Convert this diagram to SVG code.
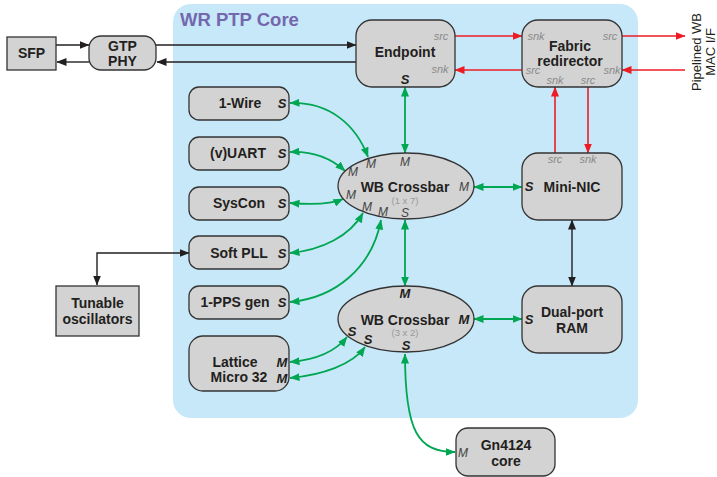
<svg xmlns="http://www.w3.org/2000/svg" width="717" height="477" viewBox="0 0 717 477">
  <defs>
    <marker id="ak" viewBox="0 0 10 8" refX="9.5" refY="4" markerWidth="10" markerHeight="8" markerUnits="userSpaceOnUse" orient="auto-start-reverse">
      <path d="M0,0 L10,4 L0,8 Z" fill="#231f20"/>
    </marker>
    <marker id="ag" viewBox="0 0 10 8" refX="9.5" refY="4" markerWidth="10" markerHeight="8" markerUnits="userSpaceOnUse" orient="auto-start-reverse">
      <path d="M0,0 L10,4 L0,8 Z" fill="#00a651"/>
    </marker>
    <marker id="ar" viewBox="0 0 10 8" refX="9.5" refY="4" markerWidth="10" markerHeight="8" markerUnits="userSpaceOnUse" orient="auto-start-reverse">
      <path d="M0,0 L10,4 L0,8 Z" fill="#ed1c24"/>
    </marker>
  </defs>
  <style>
    .box { fill: #d3d3d3; stroke: #333; stroke-width: 1.3; }
    .lbl { font-family: "Liberation Sans", Arial, sans-serif; font-weight: bold; font-size: 14px; fill: #231f20; text-anchor: middle; }
    .port { font-family: "Liberation Sans", Arial, sans-serif; font-style: italic; font-size: 11px; fill: #8a8a8a; text-anchor: middle; }
    .ps { font-family: "Liberation Sans", Arial, sans-serif; font-style: italic; font-weight: bold; font-size: 13px; fill: #231f20; text-anchor: middle; }
    .pm { font-family: "Liberation Sans", Arial, sans-serif; font-style: italic; font-size: 12px; fill: #444; text-anchor: middle; }
    .sub { font-family: "Liberation Sans", Arial, sans-serif; font-size: 9.5px; fill: #999; text-anchor: middle; }
    .side { font-family: "Liberation Sans", Arial, sans-serif; font-size: 13px; fill: #231f20; text-anchor: middle; }
    .k { fill: none; stroke: #231f20; stroke-width: 1.4; }
    .g { fill: none; stroke: #00a651; stroke-width: 1.8; }
    .r { fill: none; stroke: #ed1c24; stroke-width: 1.6; }
  </style>

  <!-- core region -->
  <rect x="173" y="4" width="465" height="414" rx="18" fill="#c6e8f9"/>
  <text x="180" y="26" font-family="Liberation Sans, Arial, sans-serif" font-weight="bold" font-size="18.5" fill="#7467ad">WR PTP Core</text>

  <!-- connectors -->
  <g id="connectors">
    <!-- SFP / PHY / Endpoint -->
    <line class="k" x1="56" y1="45" x2="89" y2="45" marker-end="url(#ak)"/>
    <line class="k" x1="89" y1="62" x2="57" y2="62" marker-end="url(#ak)"/>
    <line class="k" x1="156" y1="45" x2="356" y2="45" marker-end="url(#ak)"/>
    <line class="k" x1="356" y1="62" x2="157" y2="62" marker-end="url(#ak)"/>
    <!-- Soft PLL / tunable oscillators -->
    <path class="k" d="M97,285 V253 H189" marker-start="url(#ak)" marker-end="url(#ak)"/>
    <!-- Mini-NIC / RAM -->
    <line class="k" x1="572" y1="220" x2="572" y2="286" marker-start="url(#ak)" marker-end="url(#ak)"/>

    <!-- fabric (red) -->
    <line class="r" x1="455" y1="36" x2="522" y2="36" marker-end="url(#ar)"/>
    <line class="r" x1="522" y1="70" x2="455" y2="70" marker-end="url(#ar)"/>
    <line class="r" x1="622" y1="36" x2="685" y2="36" marker-end="url(#ar)"/>
    <line class="r" x1="685" y1="70" x2="622" y2="70" marker-end="url(#ar)"/>
    <line class="r" x1="555" y1="153" x2="555" y2="87" marker-end="url(#ar)"/>
    <line class="r" x1="588" y1="87" x2="588" y2="153" marker-end="url(#ar)"/>

    <!-- wishbone (green) -->
    <line class="g" x1="405" y1="87" x2="405" y2="153" marker-start="url(#ag)" marker-end="url(#ag)"/>
    <line class="g" x1="405" y1="220" x2="405" y2="286" marker-start="url(#ag)" marker-end="url(#ag)"/>
    <line class="g" x1="474" y1="187" x2="522" y2="187" marker-start="url(#ag)" marker-end="url(#ag)"/>
    <line class="g" x1="474" y1="319" x2="522" y2="319" marker-start="url(#ag)" marker-end="url(#ag)"/>
    <path class="g" d="M290,103 C330,102 356,125 368,157" marker-start="url(#ag)" marker-end="url(#ag)"/>
    <path class="g" d="M290,152 C315,151 332,159 345,171" marker-start="url(#ag)" marker-end="url(#ag)"/>
    <path class="g" d="M290,203 C315,205 332,204 343,199" marker-start="url(#ag)" marker-end="url(#ag)"/>
    <path class="g" d="M290,253 C322,250 350,236 363,213" marker-start="url(#ag)" marker-end="url(#ag)"/>
    <path class="g" d="M290,302 C335,298 372,268 381,220" marker-start="url(#ag)" marker-end="url(#ag)"/>
    <path class="g" d="M290,362 C315,360 335,352 347,337" marker-start="url(#ag)" marker-end="url(#ag)"/>
    <path class="g" d="M290,378 C322,375 352,365 365,347" marker-start="url(#ag)" marker-end="url(#ag)"/>
    <path class="g" d="M405,354 C405,432 418,452 455,452" marker-start="url(#ag)" marker-end="url(#ag)"/>
  </g>

  <g id="sfp">
    <rect class="box" x="7" y="37" width="49" height="33"/>
    <text class="lbl" x="31.5" y="58">SFP</text>
  </g>

  <g id="gtp-phy">
    <rect class="box" x="89" y="36" width="67" height="34" rx="12"/>
    <text class="lbl" x="122.5" y="51">GTP</text>
    <text class="lbl" x="122.5" y="66">PHY</text>
  </g>

  <g id="endpoint">
    <rect class="box" x="356" y="20" width="99" height="67" rx="16"/>
    <text class="lbl" x="405" y="57">Endpoint</text>
    <text class="port" x="441" y="40">src</text>
    <text class="port" x="440" y="73">snk</text>
    <text class="ps" x="405" y="84">S</text>
  </g>

  <g id="fabric-redirector">
    <rect class="box" x="522" y="20" width="100" height="67" rx="16"/>
    <text class="lbl" x="570" y="51">Fabric</text>
    <text class="lbl" x="570" y="66">redirector</text>
    <text class="port" x="536" y="40">snk</text>
    <text class="port" x="610" y="40">src</text>
    <text class="port" x="533" y="74">src</text>
    <text class="port" x="612" y="74">snk</text>
    <text class="port" x="555" y="84">snk</text>
    <text class="port" x="588" y="84">src</text>
  </g>

  <text class="side" transform="translate(701,52) rotate(-90)">Pipelined WB</text>
  <text class="side" transform="translate(715,52) rotate(-90)">MAC I/F</text>

  <g id="one-wire">
    <rect class="box" x="189" y="87" width="100" height="33" rx="10"/>
    <text class="lbl" x="240" y="108">1-Wire</text>
    <text class="ps" x="282" y="108">S</text>
  </g>

  <g id="vuart">
    <rect class="box" x="189" y="137" width="100" height="33" rx="10"/>
    <text class="lbl" x="238" y="158">(v)UART</text>
    <text class="ps" x="282" y="158">S</text>
  </g>

  <g id="syscon">
    <rect class="box" x="189" y="187" width="100" height="33" rx="10"/>
    <text class="lbl" x="239" y="208">SysCon</text>
    <text class="ps" x="282" y="208">S</text>
  </g>

  <g id="soft-pll">
    <rect class="box" x="189" y="236" width="100" height="33" rx="10"/>
    <text class="lbl" x="239" y="258">Soft PLL</text>
    <text class="ps" x="282" y="258">S</text>
  </g>

  <g id="pps-gen">
    <rect class="box" x="189" y="286" width="100" height="33" rx="10"/>
    <text class="lbl" x="235" y="307">1-PPS gen</text>
    <text class="ps" x="282" y="307">S</text>
  </g>

  <g id="lm32">
    <rect class="box" x="189" y="336" width="100" height="55" rx="14"/>
    <text class="lbl" x="235" y="367">Lattice</text>
    <text class="lbl" x="239" y="382">Micro 32</text>
    <text class="ps" x="282" y="367">M</text>
    <text class="ps" x="282" y="383">M</text>
  </g>

  <g id="tunable-osc">
    <rect class="box" x="56" y="286" width="83" height="50"/>
    <text class="lbl" x="97.5" y="308">Tunable</text>
    <text class="lbl" x="97.5" y="324">oscillators</text>
  </g>

  <g id="crossbar-1x7">
    <ellipse class="box" cx="406" cy="186" rx="68" ry="33"/>
    <text class="lbl" x="405" y="192">WB Crossbar</text>
    <text class="sub" x="405" y="204">(1 x 7)</text>
    <text class="pm" x="405" y="166">M</text>
    <text class="pm" x="371" y="168">M</text>
    <text class="pm" x="353" y="176">M</text>
    <text class="pm" x="464" y="191">M</text>
    <text class="pm" x="351" y="199">M</text>
    <text class="pm" x="367" y="211">M</text>
    <text class="pm" x="383" y="216">M</text>
    <text class="pm" x="405" y="217">S</text>
  </g>

  <g id="crossbar-3x2">
    <ellipse class="box" cx="406" cy="319" rx="68" ry="33"/>
    <text class="lbl" x="405" y="325">WB Crossbar</text>
    <text class="sub" x="405" y="336">(3 x 2)</text>
    <text class="ps" x="405" y="298">M</text>
    <text class="ps" x="464" y="324">M</text>
    <text class="ps" x="352" y="336">S</text>
    <text class="ps" x="368" y="344">S</text>
    <text class="ps" x="406" y="350">S</text>
  </g>

  <g id="mini-nic">
    <rect class="box" x="522" y="153" width="100" height="67" rx="16"/>
    <text class="lbl" x="572" y="192">Mini-NIC</text>
    <text class="ps" x="529" y="191">S</text>
    <text class="port" x="555" y="163">src</text>
    <text class="port" x="588" y="163">snk</text>
  </g>

  <g id="dual-port-ram">
    <rect class="box" x="522" y="286" width="100" height="67" rx="16"/>
    <text class="lbl" x="572" y="317">Dual-port</text>
    <text class="lbl" x="572" y="333">RAM</text>
    <text class="ps" x="529" y="324">S</text>
  </g>

  <g id="gn4124">
    <rect class="box" x="456" y="428" width="99" height="48" rx="12"/>
    <text class="lbl" x="506" y="450">Gn4124</text>
    <text class="lbl" x="506" y="466">core</text>
    <text class="pm" x="463" y="457">M</text>
  </g>
</svg>
